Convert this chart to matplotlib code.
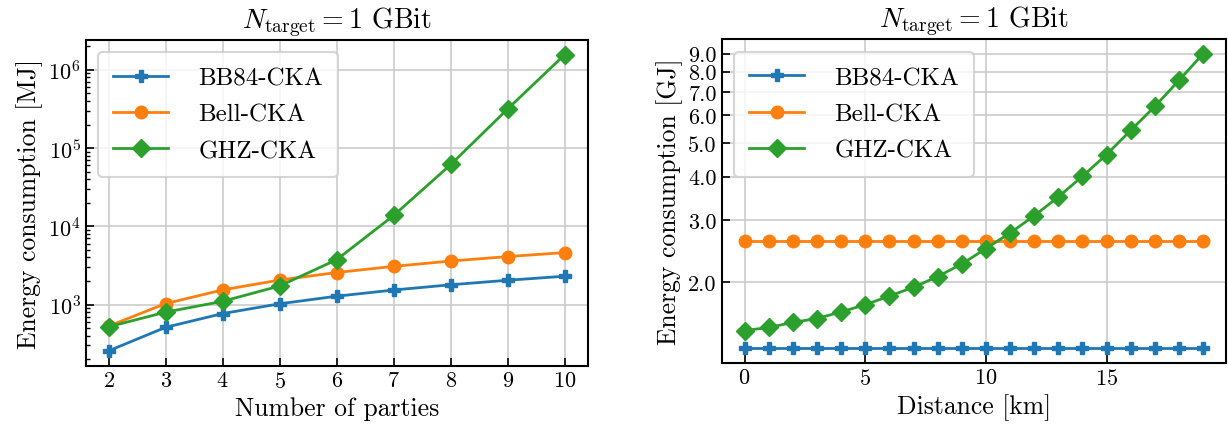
import numpy as np
import matplotlib
matplotlib.use("Agg")
import matplotlib.pyplot as plt
from matplotlib.ticker import FixedLocator, FormatStrFormatter, NullLocator

# ---- data ----
parties = [2, 3, 4, 5, 6, 7, 8, 9, 10]
bb84_parties = [256, 512, 768, 1024, 1280, 1536, 1792, 2048, 2304]          # MJ
bell_parties = [530, 1030, 1540, 2060, 2570, 3080, 3600, 4110, 4620]        # MJ
ghz_parties = [520, 800, 1100, 1730, 3750, 13800, 61700, 318000, 1.57e6]    # MJ

distance = list(range(20))                                                   # km
bb84_dist = [1.29] * 20                                                      # GJ
bell_dist = [2.62] * 20                                                      # GJ
ghz_dist = [1.45, 1.48, 1.53, 1.57, 1.64, 1.72, 1.82, 1.93, 2.07, 2.25,
            2.49, 2.76, 3.09, 3.50, 4.01, 4.63, 5.43, 6.36, 7.55, 9.00]      # GJ

labels = ["BB84-CKA", "Bell-CKA", "GHZ-CKA"]
markers = ["P", "o", "D"]
colors = ["#1f77b4", "#ff7f0e", "#2ca02c"]

plt.rcParams["font.family"] = "serif"
plt.rcParams["font.serif"] = ["cmr10", "DejaVu Serif"]
plt.rcParams["mathtext.fontset"] = "cm"
plt.rcParams["axes.formatter.use_mathtext"] = True
plt.rcParams["axes.unicode_minus"] = False

fig = plt.figure(figsize=(12.28, 4.27), dpi=100)
ax1 = fig.add_axes([0.0698, 0.1412, 0.4088, 0.7635])
ax2 = fig.add_axes([0.5877, 0.1475, 0.4107, 0.7588])

title = r"$N_{\mathrm{target}} = 1$ GBit"


def style(ax):
    ax.grid(True, which="major", color="#cccccc", linewidth=1.2)
    ax.set_axisbelow(True)
    ax.tick_params(which="both", direction="in", labelsize=16)
    ax.tick_params(which="major", length=6, width=1.2)
    ax.tick_params(which="minor", length=3, width=1)
    for s in ax.spines.values():
        s.set_linewidth(1.5)
    ax.set_title(title, fontsize=20, pad=9)
    leg = ax.legend(loc="upper left", fontsize=18, handlelength=2.2,
                    borderpad=0.6, labelspacing=0.55, handletextpad=1.2,
                    framealpha=0.8, fancybox=True)
    leg.get_frame().set_edgecolor("#cccccc")
    leg.get_frame().set_linewidth(1.5)


# left: number of parties
for ys, lab, m, c in zip([bb84_parties, bell_parties, ghz_parties], labels, markers, colors):
    ax1.plot(parties, ys, marker=m, color=c, label=lab, linewidth=2, markersize=9)
ax1.set_yscale("log")
ax1.set_xticks(parties)
ax1.set_xlabel("Number of parties", fontsize=18.5)
ax1.set_ylabel("Energy consumption [MJ]", fontsize=18.5)
style(ax1)

# right: distance
for ys, lab, m, c in zip([bb84_dist, bell_dist, ghz_dist], labels, markers, colors):
    ax2.plot(distance, ys, marker=m, color=c, label=lab, linewidth=2, markersize=9)
ax2.set_yscale("log")
ax2.yaxis.set_major_locator(FixedLocator([2, 3, 4, 5, 6, 7, 8, 9]))
ax2.yaxis.set_major_formatter(FormatStrFormatter("%.1f"))
ax2.yaxis.set_minor_locator(NullLocator())
ax2.set_xticks([0, 5, 10, 15])
ax2.set_xlabel("Distance [km]", fontsize=18.5)
ax2.set_ylabel("Energy consumption [GJ]", fontsize=18.5)
style(ax2)

fig.savefig("out.png", dpi=100)
